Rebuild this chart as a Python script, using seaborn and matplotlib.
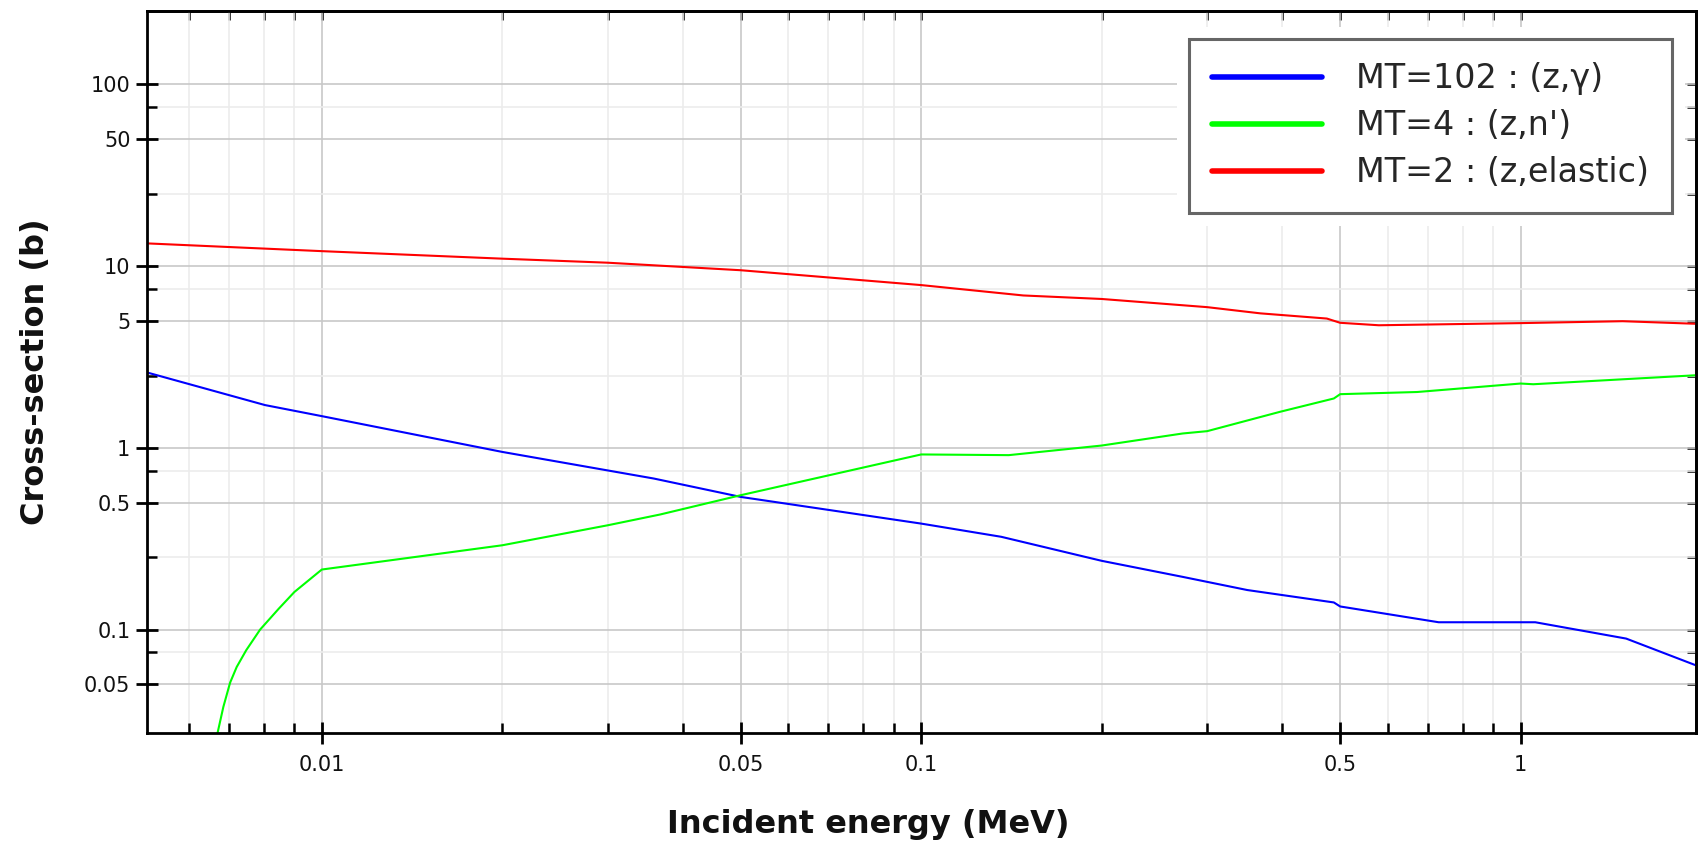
import numpy as np
import pandas as pd
import matplotlib
matplotlib.use("Agg")
import matplotlib.pyplot as plt
import matplotlib.ticker as mticker
import matplotlib.patheffects as pe
import seaborn as sns

# ---------------- data ----------------
capture_E = [0.00511, 0.00804, 0.01, 0.02, 0.0358, 0.05, 0.1, 0.136, 0.2,
             0.273, 0.35, 0.488, 0.5, 0.73, 1.058, 1.5, 1.96]
capture_xs = [2.60, 1.72, 1.495, 0.95, 0.678, 0.537, 0.383, 0.324, 0.239,
              0.195, 0.165, 0.141, 0.134, 0.1097, 0.1097, 0.0892, 0.0636]

inelastic_E = [0.0064, 0.0067, 0.00685, 0.00703, 0.00721, 0.00748, 0.00789,
               0.00847, 0.009, 0.01, 0.02, 0.03, 0.0367, 0.05, 0.1, 0.14, 0.2,
               0.273, 0.3, 0.397, 0.488, 0.5, 0.672, 1.0, 1.05, 1.96]
inelastic_xs = [0.014, 0.027, 0.0375, 0.051, 0.0622, 0.077, 0.100, 0.130,
                0.161, 0.214, 0.291, 0.375, 0.43, 0.549, 0.92, 0.912, 1.03,
                1.2, 1.236, 1.58, 1.87, 1.975, 2.03, 2.26, 2.24, 2.51]

elastic_E = [0.00511, 0.01, 0.02, 0.03, 0.05, 0.1, 0.148, 0.2, 0.3, 0.368,
             0.475, 0.5, 0.58, 1.0, 1.48, 1.96]
elastic_xs = [13.35, 12.1, 11.0, 10.45, 9.5, 7.87, 6.9, 6.6, 5.95, 5.5,
              5.15, 4.88, 4.73, 4.86, 4.98, 4.82]

series_labels = ["MT=102 : (z,\u03b3)", "MT=4 : (z,n')", "MT=2 : (z,elastic)"]
series_colors = ["#0000ff", "#00ff00", "#ff0000"]

x_major = [0.01, 0.05, 0.1, 0.5, 1]
x_major_labels = ["0.01", "0.05", "0.1", "0.5", "1"]
y_major = [0.05, 0.1, 0.5, 1, 5, 10, 50, 100]
y_major_labels = ["0.05", "0.1", "0.5", "1", "5", "10", "50", "100"]
x_minor = [m * 10.0 ** k for k in (-3, -2, -1, 0) for m in (2, 3, 4, 6, 7, 8, 9)]
y_minor = [m * 10.0 ** k for k in (-2, -1, 0, 1) for m in (2.5, 7.5)]

x_label = "Incident energy (MeV)"
y_label = "Cross-section (b)"

# ---------------- figure ----------------
sns.set_style("white")
plt.rcParams["font.family"] = ["DejaVu Sans"]

fig = plt.figure(figsize=(17.02, 8.42), dpi=100)
ax = fig.add_axes([0.0864, 0.1295, 0.9101, 0.8575])

df = pd.concat([
    pd.DataFrame({"E": capture_E, "xs": capture_xs, "reaction": series_labels[0]}),
    pd.DataFrame({"E": inelastic_E, "xs": inelastic_xs, "reaction": series_labels[1]}),
    pd.DataFrame({"E": elastic_E, "xs": elastic_xs, "reaction": series_labels[2]}),
], ignore_index=True)

sns.lineplot(data=df, x="E", y="xs", hue="reaction", hue_order=series_labels,
             palette=series_colors, estimator=None, sort=False, linewidth=1.5,
             legend=False, ax=ax)

ax.set_xscale("log")
ax.set_yscale("log")
ax.set_xlim(0.00511, 1.962)
ax.set_ylim(0.02697, 254)

ax.xaxis.set_major_locator(mticker.FixedLocator(x_major))
ax.xaxis.set_major_formatter(mticker.FixedFormatter(x_major_labels))
ax.xaxis.set_minor_locator(mticker.FixedLocator(x_minor))
ax.xaxis.set_minor_formatter(mticker.NullFormatter())
ax.yaxis.set_major_locator(mticker.FixedLocator(y_major))
ax.yaxis.set_major_formatter(mticker.FixedFormatter(y_major_labels))
ax.yaxis.set_minor_locator(mticker.FixedLocator(y_minor))
ax.yaxis.set_minor_formatter(mticker.NullFormatter())

ax.grid(True, which="major", color="#c8c8c8", linewidth=1.2)
ax.grid(True, which="minor", color="#ececec", linewidth=1.2)
ax.set_axisbelow(True)

for s in ax.spines.values():
    s.set_color("black")
    s.set_linewidth(2.0)

ax.tick_params(which="both", bottom=True, left=True, top=False, right=False)
ax.tick_params(which="major", direction="inout", length=16, width=2.0,
               color="black", labelsize=15, labelcolor="#111111")
ax.tick_params(axis="x", which="major", pad=8)
ax.tick_params(axis="y", which="major", pad=4)
ax.tick_params(which="minor", direction="in", length=7, width=1.8, color="black")

# inward ticks on top and right
secx = ax.secondary_xaxis("top")
secx.xaxis.set_major_locator(mticker.FixedLocator(x_major))
secx.xaxis.set_minor_locator(mticker.FixedLocator(x_minor))
secx.tick_params(which="both", top=True, direction="in", length=6.5, width=1.8,
                 color="black", labeltop=False)
secx.spines["top"].set_linewidth(2.0)
secx.spines["top"].set_color("black")
secy = ax.secondary_yaxis("right")
secy.yaxis.set_major_locator(mticker.FixedLocator(y_major))
secy.yaxis.set_minor_locator(mticker.FixedLocator(y_minor))
secy.tick_params(which="both", right=True, direction="in", length=6.5, width=1.8,
                 color="black", labelright=False)
secy.spines["right"].set_linewidth(2.0)
secy.spines["right"].set_color("black")

ax.set_xlabel(x_label, fontsize=23, fontweight="bold", color="#111111")
ax.set_ylabel(y_label, fontsize=23, fontweight="bold", color="#111111")
ax.xaxis.set_label_coords(0.4655, -0.105)
ax.yaxis.set_label_coords(-0.062, 0.5)

handles = [plt.Line2D([], [], color=c, linewidth=4) for c in series_colors]
leg = ax.legend(handles, series_labels, loc="upper right",
                bbox_to_anchor=(0.9845, 0.961), borderaxespad=0,
                fontsize=24, frameon=True, fancybox=False,
                handlelength=3.3, handletextpad=1.0, borderpad=0.7,
                labelspacing=0.42, framealpha=1)
frame = leg.get_frame()
frame.set_edgecolor("#666666")
frame.set_linewidth(2.2)
frame.set_facecolor("white")
frame.set_path_effects([pe.withStroke(linewidth=18, foreground="white")])

fig.savefig("out.png", dpi=100)
